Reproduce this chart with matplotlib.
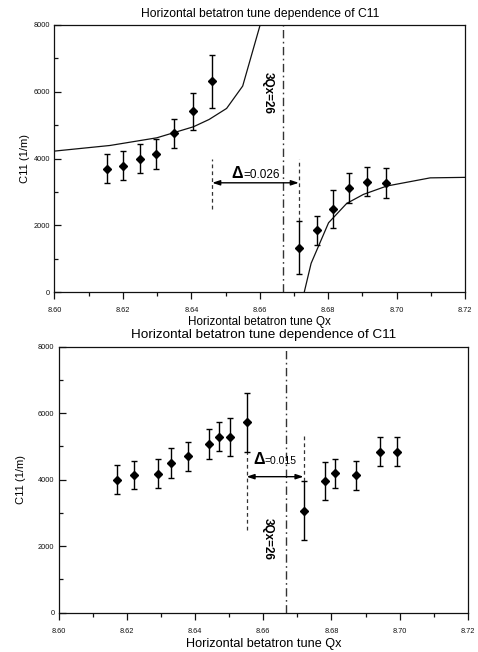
import matplotlib
matplotlib.use("Agg")
import matplotlib.pyplot as plt
from matplotlib.ticker import MultipleLocator, FormatStrFormatter

plt.rcParams['font.family'] = ['Liberation Sans', 'DejaVu Sans']

# ---------------- data: top panel ----------------
top_left_x = [8.6153, 8.6199, 8.6251, 8.6296, 8.6349, 8.6406, 8.6461]
top_left_y = [3700, 3780, 4000, 4130, 4750, 5410, 6320]
top_left_err = [435, 435, 445, 445, 440, 565, 795]

top_right_x = [8.6714, 8.6768, 8.6815, 8.6862, 8.6912, 8.6969]
top_right_y = [1330, 1850, 2500, 3125, 3305, 3265]
top_right_err = [790, 440, 570, 445, 440, 445]

curve_left_x = [8.600, 8.6162, 8.6299, 8.6406, 8.6452, 8.6503, 8.6550, 8.6601]
curve_left_y = [4222, 4390, 4620, 4950, 5170, 5500, 6170, 8000]
curve_right_x = [8.6730, 8.6750, 8.6801, 8.6854, 8.6903, 8.6971, 8.7098, 8.7200]
curve_right_y = [0, 860, 2075, 2655, 2925, 3175, 3420, 3435]

top_delta_x = [8.6461, 8.6714]
top_delta_label = "=0.026"

# ---------------- data: bottom panel ----------------
bot_x = [8.6170, 8.6222, 8.6291, 8.6330, 8.6380, 8.6441, 8.6471, 8.6501, 8.6551,
         8.6718, 8.6782, 8.6811, 8.6872, 8.6942, 8.6993]
bot_y = [4000, 4140, 4180, 4495, 4710, 5065, 5290, 5290, 5725,
         3070, 3950, 4190, 4130, 4840, 4840]
bot_err = [440, 435, 440, 445, 435, 447, 440, 565, 890,
           890, 575, 440, 440, 430, 430]

bot_delta_x = [8.6551, 8.6718]
bot_delta_label = "=0.015"

resonance = 26.0 / 3.0
title = "Horizontal betatron tune dependence of C11"
xlabel = "Horizontal betatron tune Qx"
ylabel = "C11 (1/m)"
res_label = "3Qx=26"

fig = plt.figure(figsize=(4.78, 6.52), dpi=100)
ax1 = fig.add_axes([0.114, 0.5521, 0.859, 0.4096])
ax2 = fig.add_axes([0.1228, 0.0603, 0.856, 0.408])

ink = '#111111'


def style(ax):
    ax.set_xlim(8.60, 8.72)
    ax.set_ylim(0, 8000)
    ax.xaxis.set_major_locator(MultipleLocator(0.02))
    ax.xaxis.set_minor_locator(MultipleLocator(0.01))
    ax.yaxis.set_major_locator(MultipleLocator(2000))
    ax.yaxis.set_minor_locator(MultipleLocator(1000))
    ax.xaxis.set_major_formatter(FormatStrFormatter('%.2f'))
    ax.tick_params(axis='x', which='major', direction='out', length=5, width=0.9,
                   labelsize=5.3, pad=6, colors=ink)
    ax.tick_params(axis='x', which='minor', direction='out', length=3, width=0.9, colors=ink)
    ax.tick_params(axis='y', which='major', direction='in', length=5, width=0.9,
                   labelsize=5.3, pad=3, colors=ink)
    ax.tick_params(axis='y', which='minor', direction='in', length=3, width=0.9, colors=ink)
    for s in ax.spines.values():
        s.set_linewidth(0.9)
        s.set_color(ink)


style(ax1)
style(ax2)
ax1.set_ylabel(ylabel, fontsize=8)
ax2.set_ylabel(ylabel, fontsize=8)
ax1.yaxis.set_label_coords(-0.06, 0.5)
ax2.yaxis.set_label_coords(-0.08, 0.5)

ebkw = dict(fmt='D', color='black', ms=4, capsize=2.5, elinewidth=1.0,
            capthick=1.0, zorder=5)

dash_short = (3, 2.5)
dash_dot = (6, 2.5, 1.2, 2.5)

# ---- top panel ----
ax1.plot(curve_left_x, curve_left_y, color=ink, lw=0.9)
ax1.plot(curve_right_x, curve_right_y, color=ink, lw=0.9)
ax1.errorbar(top_left_x, top_left_y, yerr=top_left_err, **ebkw)
ax1.errorbar(top_right_x, top_right_y, yerr=top_right_err, **ebkw)
l = ax1.axvline(resonance, color='#333333', lw=1.0)
l.set_dashes(dash_dot)
ax1.plot([top_delta_x[0]] * 2, [2500, 3990], color='#333333', lw=0.9, dashes=dash_short)
ax1.plot([top_delta_x[1]] * 2, [2120, 3990], color='#333333', lw=0.9, dashes=dash_short)
ax1.annotate('', xy=(top_delta_x[1], 3272), xytext=(top_delta_x[0], 3272),
             arrowprops=dict(arrowstyle='<|-|>,head_length=0.45,head_width=0.15',
                             color='black', lw=1.0, shrinkA=0, shrinkB=0))
ax1.text(8.6551, 3422, '\u0394', fontsize=11.5, fontweight='bold', ha='right', va='baseline')
ax1.text(8.6551, 3422, top_delta_label, fontsize=8.5, ha='left', va='baseline')
ax1.text(8.6624, 5950, res_label, fontsize=8.5, fontweight='bold', rotation=-90,
         ha='center', va='center')
ax1.set_xlabel(xlabel, fontsize=8.4, labelpad=1)
ax1.set_title(title, fontsize=8.7, pad=6)

# ---- bottom panel ----
ax2.errorbar(bot_x, bot_y, yerr=bot_err, **ebkw)
l2 = ax2.axvline(resonance, color='#333333', lw=1.0)
l2.set_dashes(dash_dot)
ax2.plot([bot_delta_x[0]] * 2, [2480, 4830], color='#333333', lw=0.9, dashes=dash_short)
ax2.plot([bot_delta_x[1]] * 2, [3960, 5340], color='#333333', lw=0.9, dashes=dash_short)
ax2.annotate('', xy=(bot_delta_x[1], 4090), xytext=(bot_delta_x[0], 4090),
             arrowprops=dict(arrowstyle='<|-|>,head_length=0.45,head_width=0.15',
                             color='black', lw=1.0, shrinkA=0, shrinkB=0))
ax2.text(8.6605, 4472, '\u0394', fontsize=11.5, fontweight='bold', ha='right', va='baseline')
ax2.text(8.6605, 4472, bot_delta_label, fontsize=7.5, ha='left', va='baseline')
ax2.text(8.6612, 2216, res_label, fontsize=8.5, fontweight='bold', rotation=-90,
         ha='center', va='center')
ax2.set_xlabel(xlabel, fontsize=9.1, labelpad=2)
ax2.set_title(title, fontsize=9.7, pad=6)

fig.savefig('out.png', dpi=100)
